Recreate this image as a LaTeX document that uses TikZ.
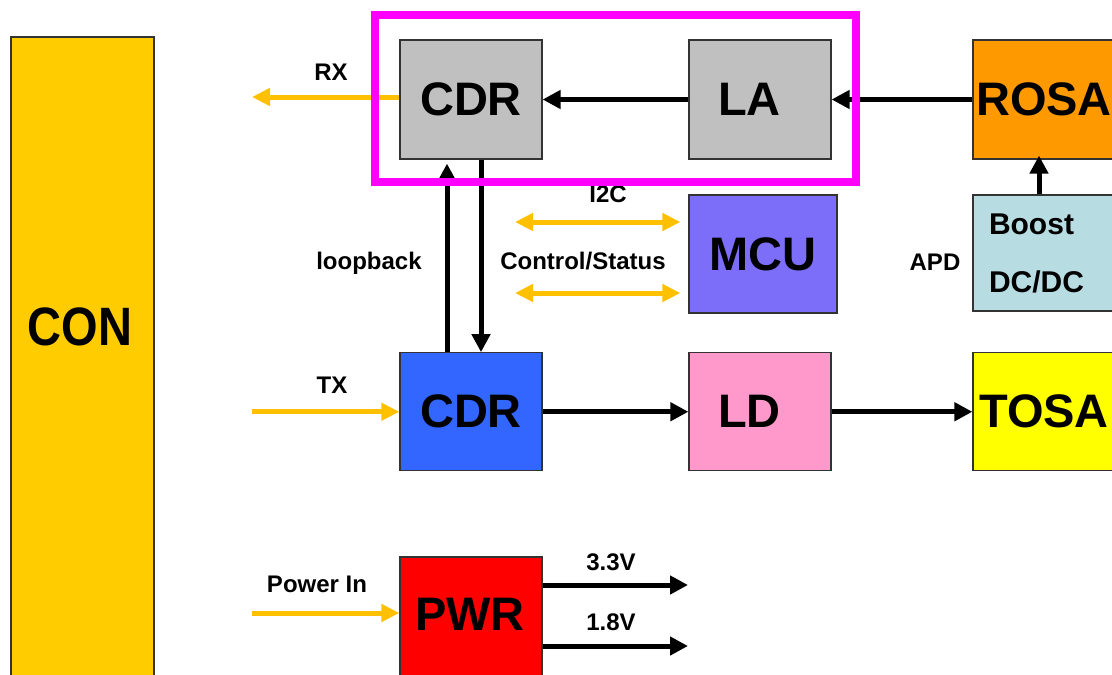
\documentclass[tikz,border=0pt]{standalone}
\usepackage{fontspec}
\setmainfont{Liberation Sans}
\usetikzlibrary{arrows.meta}
\definecolor{confill}{RGB}{255,204,0}
\definecolor{yarrow}{RGB}{255,192,0}
\definecolor{grayc}{RGB}{192,192,192}
\definecolor{rosac}{RGB}{255,153,0}
\definecolor{mcuc}{RGB}{125,110,250}
\definecolor{boostc}{RGB}{183,221,226}
\definecolor{bluec}{RGB}{51,102,255}
\definecolor{pinkc}{RGB}{255,153,204}
\definecolor{tosac}{RGB}{255,255,0}
\definecolor{redc}{RGB}{255,0,0}
\definecolor{framec}{RGB}{255,0,255}
\newcommand{\bigf}{\fontsize{47}{50}\selectfont\bfseries}
\newcommand{\lblf}{\fontsize{24}{28}\selectfont\bfseries}
\newcommand{\boostf}{\fontsize{30}{58}\selectfont\bfseries}
\begin{document}
\begin{tikzpicture}[x=1pt,y=-1pt,
  box/.style={draw=black!80, line width=1.2pt, rectangle, inner sep=0pt, font=\bigf},
  bigtxt/.style={font=\bigf, anchor=base, inner sep=0pt},
  lbl/.style={font=\lblf, anchor=base, inner sep=0pt},
  blk/.style={line width=5pt, draw=black, -{Triangle[length=18pt,width=18pt]}},
  yel/.style={line width=5pt, draw=yarrow, -{Triangle[length=18pt,width=17pt]}},
  yelboth/.style={line width=5pt, draw=yarrow, {Triangle[length=18pt,width=17pt]}-{Triangle[length=18pt,width=17pt]}}]
\clip (0,0) rectangle (1112,675);
\fill[white] (0,0) rectangle (1112,675);

% boxes
\node[box, fill=confill, minimum width=143pt, minimum height=663pt] (con) at (82.5,368.5) {};
\node[bigtxt] (contxt) at (80,345) {\scalebox{1}[1.15]{CON}};
\node[box, fill=grayc, minimum width=142pt, minimum height=119pt] (rxcdr) at (471,99.5) {CDR};
\node[box, fill=grayc, minimum width=142pt, minimum height=119pt] (la) at (760,99.5) {LA\hspace*{21pt}};
\node[box, fill=rosac, minimum width=142pt, minimum height=119pt] (rosa) at (1044,99.5) {ROSA};
\node[box, fill=mcuc, minimum width=148pt, minimum height=118pt] (mcu) at (763,254) {MCU};
\node[box, fill=boostc, minimum width=142pt, minimum height=116pt, font=\boostf, text width=110pt, align=left] (boost) at (1044,253) {Boost\\DC/DC};
\node[box, fill=bluec, minimum width=142pt, minimum height=118pt] (txcdr) at (471,411.75) {CDR};
\node[box, fill=pinkc, minimum width=142pt, minimum height=118pt] (ld) at (760,411.75) {LD\hspace*{21pt}};
\node[box, fill=tosac, minimum width=142pt, minimum height=118pt] (tosa) at (1044,411.75) {TOSA};
\node[box, fill=redc, minimum width=142pt, minimum height=143pt] (pwr) at (471,628.5) {};
\node[bigtxt] (pwrtxt) at (470,630) {PWR};

% labels
\node[lbl] (rxl) at (331,80) {RX};
\node[lbl] (txl) at (332,393) {TX};
\node[lbl] (loopl) at (369,269) {loopback};
\node[lbl] (i2cl) at (608,202) {I2C};
\node[lbl] (ctrll) at (583,269) {Control/Status};
\node[lbl] (apdl) at (935,270) {APD};
\node[lbl] (pinl) at (317,592) {Power In};
\node[lbl] (v33l) at (611,570) {3.3V};
\node[lbl] (v18l) at (611,630) {1.8V};

% coordinates for free ends
\coordinate (rxend) at (252,97);
\coordinate (txin) at (252,411.75);
\coordinate (pin) at (252,613);
\coordinate (ia) at (515,222);
\coordinate (ib) at (515,293);
\coordinate (v33) at (688,585);
\coordinate (v18) at (688,646);

% connectors
\draw[yel] (rxend -| rxcdr.west) -- (rxend);
\draw[blk] (la) -- (rxcdr);
\draw[blk] (rosa) -- (la);
\draw[blk, shorten >=-4pt] ([xshift=-5pt]boost.north) -- ([xshift=-5pt]rosa.south);
\draw[blk, shorten >=4pt] ([xshift=-24pt]txcdr.north) -- ([xshift=-24pt]rxcdr.south);
\draw[blk] ([xshift=10pt]rxcdr.south) -- ([xshift=10pt]txcdr.north);
\draw[yelboth, shorten >=8pt] (ia) -- (ia -| mcu.west);
\draw[yelboth, shorten >=8pt] (ib) -- (ib -| mcu.west);
\draw[yel] (txin) -- (txin -| txcdr.west);
\draw[blk] (txcdr) -- (ld);
\draw[blk] (ld) -- (tosa);
\draw[yel] (pin) -- (pin -| pwr.west);
\draw[blk] (v33 -| pwr.east) -- (v33);
\draw[blk] (v18 -| pwr.east) -- (v18);

% magenta frame on top
\node[draw=framec, line width=8pt, rectangle, inner sep=0pt, minimum width=480.5pt, minimum height=167pt] (frame) at (615.25,98) {};
\end{tikzpicture}
\end{document}
